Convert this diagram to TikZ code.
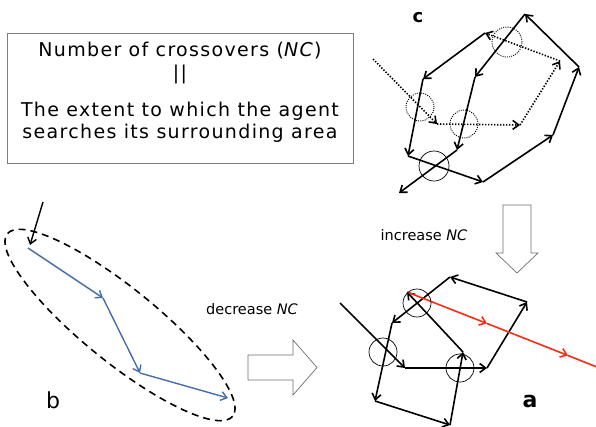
\documentclass[tikz,border=0pt]{standalone}
\usepackage{fontspec}
\setmainfont{DejaVu Sans}
\usepackage{tikz}
\usetikzlibrary{arrows.meta,positioning,calc}
\definecolor{walkblue}{RGB}{68,110,168}
\definecolor{walkred}{RGB}{250,45,20}
\definecolor{framegray}{RGB}{125,125,125}
\definecolor{hollowgray}{RGB}{110,110,110}

\begin{document}
\begin{tikzpicture}[
      x=1pt,y=-1pt,
      walk/.style={-{Straight Barb[length=6pt,width=9pt]},line width=1.6pt},
      ghost/.style={walk,dash pattern=on 1.4pt off 1.6pt},
      bluewalk/.style={-{Straight Barb[length=6pt,width=9pt]},line width=1.4pt,draw=walkblue},
      redwalk/.style={-{Straight Barb[length=6pt,width=9pt]},line width=1.6pt,draw=walkred},
      cross/.style={circle,draw,line width=0.7pt,minimum size=28pt,inner sep=0pt},
      ghostcross/.style={cross,line width=0.9pt,dash pattern=on 1pt off 1.2pt},
      hollow/.style={draw=hollowgray,line width=0.7pt,fill=white},
      frame/.style={draw=framegray,line width=0.7pt},
      defbox/.style={
        align=center,
        font=\fontsize{19}{22.5}\selectfont\addfontfeatures{LetterSpace=7}
      },
      tag/.style={font=\fontsize{14.5}{16}\selectfont},
      panel/.style={font=\fontsize{22}{24}\selectfont\bfseries}
    ]
      \useasboundingbox (0,0) rectangle (596,426);
      % definition box
      \draw[frame] (7,33) rectangle (353,163);
      \node[defbox] (defn) at (180,92.5) {Number of crossovers (\textit{NC})\\[1pt]
        ||\\[14pt]
        The extent to which the agent\\
        searches its surrounding area};

      % panel c: search with many crossovers
      \node[panel,font=\fontsize{18}{20}\selectfont\bfseries] (labc) at (418,18) {c};
      \coordinate (c0) at (373,59);
      \coordinate (c1) at (437,124);
      \coordinate (c2) at (520,125);
      \coordinate (c3) at (560,61);
      \coordinate (c4) at (485,33);
      \coordinate (c5) at (423,79);
      \coordinate (c6) at (408,156);
      \coordinate (c7) at (483,182);
      \coordinate (c8) at (553,135);
      \coordinate (c9) at (579,67);
      \coordinate (c10) at (525,14);
      \coordinate (c11) at (475,77);
      \coordinate (c12) at (457,150);
      \coordinate (c13) at (399,193);
      \draw[ghost] (c0) -- (c1);
      \draw[ghost] (c1) -- (c2);
      \draw[ghost] (c2) -- (c3);
      \draw[ghost] (c3) -- (c4);
      \draw[walk] (c4) -- (c5);
      \draw[walk] (c5) -- (c6);
      \draw[walk] (c6) -- (c7);
      \draw[walk] (c7) -- (c8);
      \draw[walk] (c8) -- (c9);
      \draw[walk] (c9) -- (c10);
      \draw[walk] (c10) -- (c11);
      \draw[walk] (c11) -- (c12);
      \draw[walk] (c12) -- (c13);
      \node[ghostcross,minimum size=30pt] (cx1) at (507,42) {};
      \node[ghostcross] (cx2) at (420,107) {};
      \node[ghostcross] (cx3) at (464,124) {};
      \node[cross,minimum size=30pt] (cx4) at (434,166) {};

      % arrow c -> a
      \draw[hollow] (503,205) -- (531,205) -- (531,253) -- (538,253) -- (517,273)
        -- (496,253) -- (503,253) -- cycle;
      \node[tag] (more) at (424,235) {increase \textit{NC}};

      % panel a
      \node[panel] (laba) at (530,401) {a};
      \coordinate (a0) at (340,303);
      \coordinate (a1) at (405,368);
      \coordinate (a2) at (487,368);
      \coordinate (a3) at (527,302);
      \coordinate (a4) at (450,277);
      \coordinate (a5) at (392,323);
      \coordinate (a6) at (375,401);
      \coordinate (a7) at (450,425);
      \coordinate (a8) at (463,352);
      \coordinate (a9) at (407,292);
      \coordinate (r1) at (487,323.5);
      \coordinate (r2) at (568,355.5);
      \coordinate (r3) at (598,367.5);
      \draw[walk] (a0) -- (a1);
      \draw[walk] (a1) -- (a2);
      \draw[walk] (a2) -- (a3);
      \draw[walk] (a3) -- (a4);
      \draw[walk] (a4) -- (a5);
      \draw[walk] (a5) -- (a6);
      \draw[walk] (a6) -- (a7);
      \draw[walk] (a7) -- (a8);
      \draw[walk] (a8) -- (a9);
      \draw[redwalk] (a9) -- (r1);
      \draw[redwalk] (r1) -- (r2);
      \draw[line width=1.6pt,walkred] (r2) -- (r3);
      \node[cross] (ax1) at (417,303) {};
      \node[cross] (ax2) at (383,352) {};
      \node[cross] (ax3) at (460,368) {};

      % panel b
      \node[panel,font=\fontsize{22}{24}\selectfont] (labb) at (53,400) {b};
      \draw[line width=1.6pt,dash pattern=on 7pt off 5pt,rotate around={-39:(120,325)}]
        (120,325) ellipse (145 and 37);
      \coordinate (b0) at (43,202);
      \coordinate (b1) at (30,245);
      \coordinate (b2) at (28,248);
      \coordinate (b3) at (103,298);
      \coordinate (b4) at (140,373);
      \coordinate (b5) at (228,398);
      \draw[walk,line width=1.4pt] (b0) -- (b1);
      \draw[bluewalk] (b2) -- (b3);
      \draw[bluewalk] (b3) -- (b4);
      \draw[bluewalk] (b4) -- (b5);

      % arrow b -> a
      \draw[hollow] (248,355) -- (293,355) -- (293,340) -- (317,367.5) -- (293,395)
        -- (293,380) -- (248,380) -- cycle;
      \node[tag] (less) at (252,309) {decrease \textit{NC}};
    \end{tikzpicture}
\end{document}
